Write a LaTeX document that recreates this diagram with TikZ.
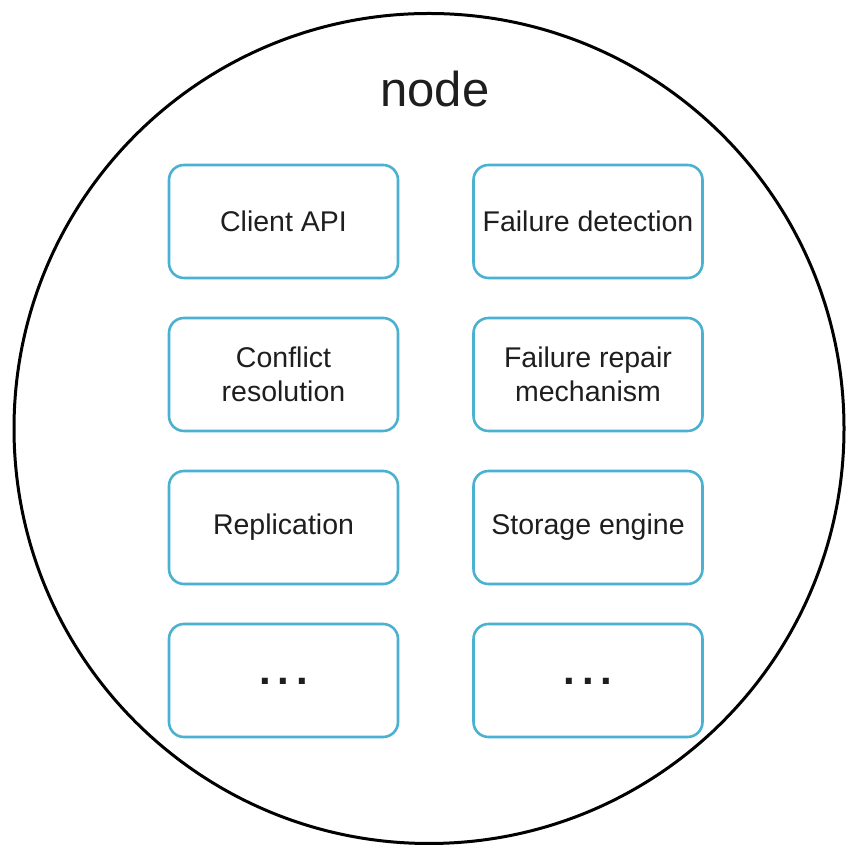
\documentclass[tikz,border=0pt]{standalone}
\usepackage{fontspec}
\setmainfont{Liberation Sans}
\definecolor{boxblue}{RGB}{74,178,208}
\definecolor{txt}{RGB}{30,30,30}
\begin{document}
\begin{tikzpicture}[x=1pt,y=1pt,
  comp/.style={draw=boxblue, line width=2.6pt, rounded corners=15pt, fill=white,
    minimum width=229pt, minimum height=113pt, inner sep=0pt, align=center,
    text=txt, font=\fontsize{28.5}{34}\selectfont},
  dots/.style={text=txt, font=\fontsize{42}{42}\selectfont\bfseries, inner sep=0pt, anchor=base}
]
\useasboundingbox (0,0) rectangle (845,850);
\fill[white] (0,0) rectangle (845,850);
\node[draw=black, line width=3pt, circle, minimum size=830pt, inner sep=0pt] (outer) at (429,421.5) {};
\node[text=txt, font=\fontsize{49}{49}\selectfont, anchor=base] (title) at (435,743) {node};

\node[comp] (api) at (283.5,628.5) {Client API};
\node[comp] (fd) at (588,628.5) {Failure detection};
\node[comp] (cr) at (283.5,475.5) {Conflict\\resolution};
\node[comp] (frm) at (588,475.5) {Failure repair\\mechanism};
\node[comp] (rep) at (283.5,322.5) {Replication};
\node[comp] (se) at (588,322.5) {Storage engine};
\node[comp] (e1) at (283.5,169.5) {};
\node[comp] (e2) at (588,169.5) {};
\node[dots] (d1) at (283.5,165.5) {.\kern7pt.\kern7pt.};
\node[dots] (d2) at (588,165.5) {.\kern7pt.\kern7pt.};
\end{tikzpicture}
\end{document}
